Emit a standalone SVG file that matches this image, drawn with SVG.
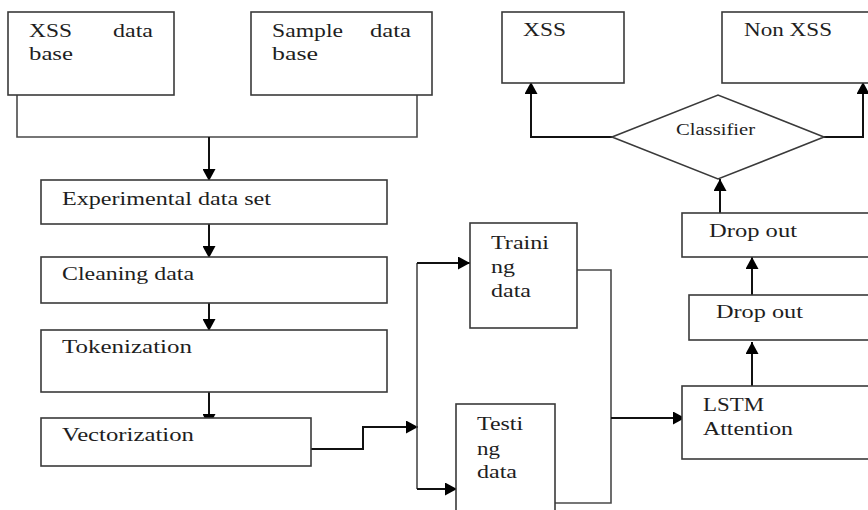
<svg xmlns="http://www.w3.org/2000/svg" width="868" height="510" viewBox="0 0 868 510">
<defs>
<style>
.box{fill:#fff;stroke:#3a3a3a;stroke-width:1.6}
.t{font-family:'Liberation Serif','DejaVu Serif','Times New Roman',serif;font-size:18px;fill:#1e1e1e}
.ts{font-family:'Liberation Serif','DejaVu Serif','Times New Roman',serif;font-size:17px;fill:#1e1e1e}
.ln{fill:none;stroke:#4a4a4a;stroke-width:1.6}
.ar{fill:none;stroke:#111;stroke-width:2}
</style>
<marker id="ah" markerUnits="userSpaceOnUse" markerWidth="12" markerHeight="13" refX="12" refY="6.5" orient="auto">
<path d="M0,0 L12,6.5 L0,13 z" fill="#000"/>
</marker>
</defs>
<rect width="868" height="510" fill="#fff"/>

<g id="connectors">
<polyline class="ln" points="17,95 17,137 417,137 417,95"/>
<line class="ar" x1="209" y1="137" x2="209" y2="181" marker-end="url(#ah)"/>
<line class="ar" x1="209" y1="213" x2="209" y2="258" marker-end="url(#ah)"/>
<line class="ar" x1="209" y1="295" x2="209" y2="331" marker-end="url(#ah)"/>
<line class="ar" x1="209" y1="392" x2="209" y2="426" marker-end="url(#ah)"/>
<polyline class="ar" points="311,449 363,449 363,427 418,427" marker-end="url(#ah)"/>
<line class="ln" x1="417" y1="263" x2="417" y2="489"/>
<line class="ar" x1="417" y1="263" x2="470" y2="263" marker-end="url(#ah)"/>
<line class="ar" x1="417" y1="489" x2="457" y2="489" marker-end="url(#ah)"/>
<polyline class="ln" points="577,270 611,270 611,503 555,503"/>
<line class="ar" x1="611" y1="418" x2="685" y2="418" marker-end="url(#ah)"/>
<line class="ar" x1="752" y1="392" x2="752" y2="342" marker-end="url(#ah)"/>
<line class="ar" x1="752" y1="295" x2="752" y2="257" marker-end="url(#ah)"/>
<line class="ar" x1="720" y1="213" x2="720" y2="179" marker-end="url(#ah)"/>
<polyline class="ar" points="612,137 531,137 531,82" marker-end="url(#ah)"/>
<polyline class="ar" points="824,137 863,137 863,82" marker-end="url(#ah)"/>
</g>

<g id="xss-db">
<rect class="box" x="8" y="12" width="166" height="83"/>
<text class="t" font-family="Liberation Serif, serif" x="29" y="37" textLength="43" lengthAdjust="spacingAndGlyphs">XSS</text>
<text class="t" font-family="Liberation Serif, serif" x="113" y="37" textLength="40" lengthAdjust="spacingAndGlyphs">data</text>
<text class="t" font-family="Liberation Serif, serif" x="29" y="60" textLength="44" lengthAdjust="spacingAndGlyphs">base</text>
</g>

<g id="sample-db">
<rect class="box" x="251" y="12" width="181" height="83"/>
<text class="t" x="272" y="37" textLength="71" lengthAdjust="spacingAndGlyphs">Sample</text>
<text class="t" x="370" y="37" textLength="41" lengthAdjust="spacingAndGlyphs">data</text>
<text class="t" x="272" y="60" textLength="46" lengthAdjust="spacingAndGlyphs">base</text>
</g>

<g id="experimental">
<rect class="box" x="41" y="180" width="346" height="44"/>
<text class="t" x="62" y="205" textLength="209" lengthAdjust="spacingAndGlyphs">Experimental data set</text>
</g>

<g id="cleaning">
<rect class="box" x="41" y="257" width="346" height="46"/>
<text class="t" x="62" y="280" textLength="132" lengthAdjust="spacingAndGlyphs">Cleaning data</text>
</g>

<g id="tokenization">
<rect class="box" x="41" y="330" width="346" height="62"/>
<text class="t" x="62" y="353" textLength="130" lengthAdjust="spacingAndGlyphs">Tokenization</text>
</g>

<g id="vectorization">
<rect class="box" x="41" y="418" width="270" height="48"/>
<text class="t" x="62" y="441" textLength="132" lengthAdjust="spacingAndGlyphs">Vectorization</text>
</g>

<g id="training">
<rect class="box" x="470" y="223" width="107" height="105"/>
<text class="t" x="491" y="249" textLength="58" lengthAdjust="spacingAndGlyphs">Traini</text>
<text class="t" x="491" y="273" textLength="24" lengthAdjust="spacingAndGlyphs">ng</text>
<text class="t" x="491" y="297" textLength="40" lengthAdjust="spacingAndGlyphs">data</text>
</g>

<g id="testing">
<rect class="box" x="456" y="404" width="99" height="120"/>
<text class="t" x="477" y="430" textLength="46" lengthAdjust="spacingAndGlyphs">Testi</text>
<text class="t" x="477" y="455" textLength="23" lengthAdjust="spacingAndGlyphs">ng</text>
<text class="t" x="477" y="478" textLength="40" lengthAdjust="spacingAndGlyphs">data</text>
</g>

<g id="lstm">
<rect class="box" x="682" y="386" width="200" height="73"/>
<text class="t" x="703" y="411" textLength="61" lengthAdjust="spacingAndGlyphs">LSTM</text>
<text class="t" x="703" y="435" textLength="90" lengthAdjust="spacingAndGlyphs">Attention</text>
</g>

<g id="dropout1">
<rect class="box" x="689" y="295" width="193" height="45"/>
<text class="t" x="716" y="318" textLength="87" lengthAdjust="spacingAndGlyphs">Drop out</text>
</g>

<g id="dropout2">
<rect class="box" x="682" y="213" width="200" height="44"/>
<text class="t" x="709" y="237" textLength="88" lengthAdjust="spacingAndGlyphs">Drop out</text>
</g>

<g id="classifier">
<polygon class="box" points="612,137 718,95 824,137 718,179"/>
<text class="ts" x="676" y="135" textLength="79" lengthAdjust="spacingAndGlyphs">Classifier</text>
</g>

<g id="xss">
<rect class="box" x="502" y="12" width="122" height="71"/>
<text class="t" x="523" y="36" textLength="43" lengthAdjust="spacingAndGlyphs">XSS</text>
</g>

<g id="nonxss">
<rect class="box" x="722" y="12" width="160" height="71"/>
<text class="t" x="744" y="36" textLength="88" lengthAdjust="spacingAndGlyphs">Non XSS</text>
</g>
</svg>
